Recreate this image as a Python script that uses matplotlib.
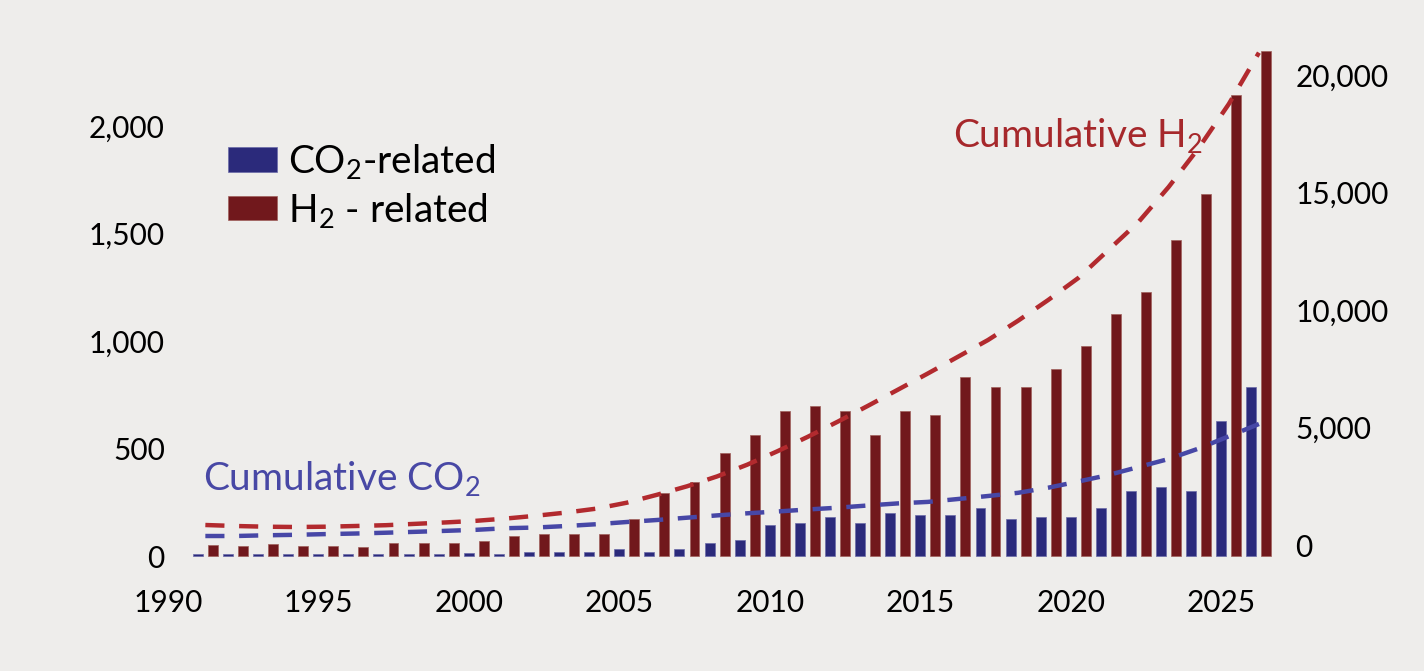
import numpy as np
import matplotlib.pyplot as plt

# values
years = np.arange(1991, 2027)
co2_related = [8, 8, 8, 8, 8, 8, 8, 8, 8, 15, 8, 17, 17, 17, 31, 17, 31, 62,
               74, 144, 152, 180, 152, 201, 191, 191, 222, 172, 180, 180, 222,
               302, 322, 302, 628, 788]
h2_related = [51, 48, 54, 47, 47, 40, 59, 59, 59, 71, 94, 101, 101, 101, 172,
              292, 346, 480, 561, 673, 697, 673, 561, 673, 656, 833, 787, 787,
              871, 978, 1126, 1229, 1470, 1684, 2144, 2349]
cum_co2 = [383, 383, 413, 434, 464, 489, 523, 562, 604, 647, 715, 745, 809,
           885, 979, 1064, 1162, 1260, 1349, 1426, 1511, 1587, 1681, 1770,
           1834, 1957, 2085, 2221, 2438, 2702, 2979, 3319, 3660, 4106, 4626,
           5149]
cum_h2 = [851, 809, 779, 766, 779, 809, 843, 902, 962, 1030, 1128, 1247, 1383,
          1549, 1800, 2136, 2498, 2919, 3417, 3987, 4596, 5243, 5915, 6604,
          7298, 8009, 8723, 9545, 10426, 11362, 12553, 13745, 15234, 16894,
          18766, 20950]
tick_years = [1990, 1995, 2000, 2005, 2010, 2015, 2020, 2025]
left_ticks = [0, 500, 1000, 1500, 2000]
right_ticks = [0, 5000, 10000, 15000, 20000]

plt.rcParams['font.family'] = ['Lato', 'DejaVu Sans']
plt.rcParams['mathtext.fontset'] = 'custom'
plt.rcParams['mathtext.rm'] = 'Lato'
plt.rcParams['mathtext.it'] = 'Lato'

bg = '#eeedeb'
W, H = 1424, 671
fig = plt.figure(figsize=(W / 100, H / 100), dpi=100, facecolor=bg)
ax = fig.add_axes([162 / W, 1 - 560 / H, (1280 - 162) / W, (560 - 40) / H])
ax.set_facecolor(bg)
ax2 = ax.twinx()

bw = 0.33
b1 = ax.bar(years - 0.25, co2_related, bw, color='#2b2a7b',
            edgecolor='#6a6aa8', linewidth=0.5)
b2 = ax.bar(years + 0.25, h2_related, bw, color='#71181c',
            edgecolor='#a0605c', linewidth=0.5)

dash = (0, (4.3, 3.3))
ax2.plot(years, cum_co2, color='#4747a6', lw=3.2, ls=dash)
ax2.plot(years, cum_h2, color='#b22a2e', lw=3.2, ls=dash)

ax.set_xlim(1989.56, 2026.70)
ax.set_ylim(-18.6, 2400)
ax2.set_ylim(-638, 21489)

ax.set_xticks(np.array(tick_years) - 0.25)
ax.set_xticklabels([str(y) for y in tick_years])
ax.set_yticks(left_ticks)
ax.set_yticklabels([f'{v:,}' for v in left_ticks])
ax2.set_yticks(right_ticks)
ax2.set_yticklabels([f'{v:,}' for v in right_ticks])

for a in (ax, ax2):
    for s in a.spines.values():
        s.set_visible(False)
ax.tick_params(axis='x', length=0, pad=21, labelsize=21.5)
ax.tick_params(axis='y', length=0, pad=-2, labelsize=21.5)
ax2.tick_params(axis='y', length=0, pad=11, labelsize=21.5)

fig.text(203 / W, 1 - 490 / H, 'Cumulative CO$_\\mathregular{2}$',
         fontsize=28, color='#4848a5', va='baseline')
fig.text(953 / W, 1 - 147 / H, 'Cumulative H$_\\mathregular{2}$',
         fontsize=28, color='#a6282b', va='baseline')

ax.legend([b1, b2], ['CO$_\\mathregular{2}$-related', 'H$_\\mathregular{2}$ - related'],
          loc='upper left', bbox_to_anchor=(228 / W, 1 - 142 / H),
          bbox_transform=fig.transFigure, frameon=False, fontsize=28,
          borderpad=0, borderaxespad=0, handlelength=1.26, handleheight=0.6,
          handletextpad=0.28, labelspacing=0.25)

fig.savefig('out.png', dpi=100, facecolor=bg)
